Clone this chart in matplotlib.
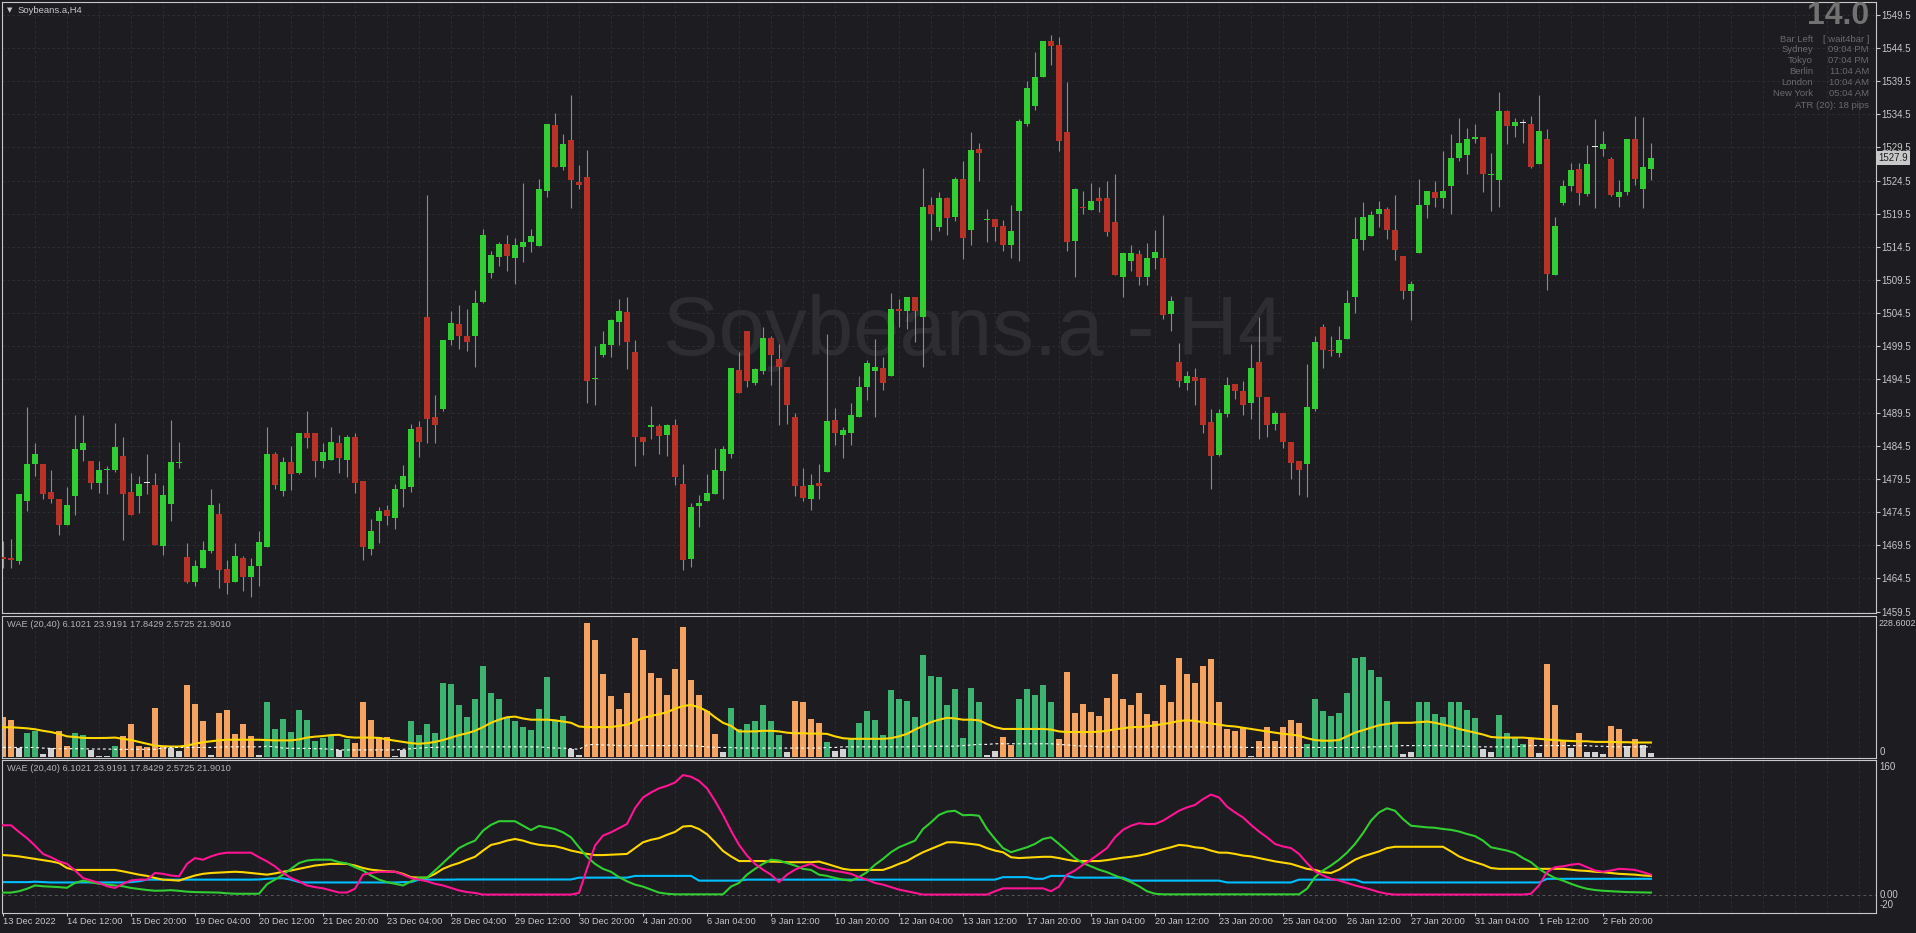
import numpy as np
import matplotlib
matplotlib.use("Agg")
import matplotlib.pyplot as plt
from matplotlib.transforms import blended_transform_factory

plt.rcParams["font.family"] = ["Liberation Sans", "DejaVu Sans"]

# ---- price data (H4 candles) ----
opens = [
    1467.7, 1467.5, 1467.1, 1476.1, 1481.7, 1481.7, 1477.5, 1476.4, 1472.5, 1477.0,
    1483.8, 1482.2, 1478.9, 1480.8, 1480.8, 1483.0, 1477.5, 1477.0, 1478.9, 1478.6,
    1469.4, 1475.7, 1481.9, 1467.7, 1463.9, 1466.0, 1468.6, 1474.2, 1465.9, 1463.9,
    1467.5, 1464.7, 1466.4, 1469.3, 1483.3, 1477.7, 1482.1, 1480.4, 1486.5, 1486.5,
    1482.2, 1482.4, 1484.9, 1482.4, 1485.9, 1479.2, 1468.9, 1473.1, 1474.8, 1473.6,
    1478.0, 1478.3, 1487.3, 1503.9, 1488.9, 1490.0, 1500.4, 1502.8, 1501.0, 1501.0,
    1506.2, 1510.5, 1513.0, 1515.0, 1512.9, 1514.5, 1515.2, 1514.7, 1523.0, 1532.9,
    1526.5, 1530.6, 1524.3, 1525.1, 1494.6, 1498.2, 1499.7, 1503.1, 1504.7, 1498.6,
    1485.9, 1487.3, 1487.5, 1486.2, 1487.7, 1478.8, 1467.4, 1475.4, 1476.1, 1477.2,
    1480.7, 1483.3, 1495.9, 1501.8, 1494.0, 1495.8, 1500.8, 1497.6, 1496.4, 1488.8,
    1478.4, 1476.4, 1478.9, 1480.6, 1488.4, 1486.2, 1486.4, 1488.9, 1493.3, 1495.8,
    1496.3, 1495.0, 1505.2, 1504.8, 1507.0, 1504.0, 1520.8, 1517.5, 1521.9, 1519.0,
    1524.8, 1517.1, 1529.3, 1518.5, 1518.7, 1517.6, 1514.8, 1519.9, 1533.1, 1535.8,
    1540.2, 1545.6, 1544.9, 1531.8, 1515.4, 1520.5, 1520.1, 1521.9, 1521.9, 1518.3,
    1509.9, 1512.4, 1513.4, 1509.9, 1512.9, 1512.9, 1504.4, 1497.2, 1494.0, 1494.9,
    1494.7, 1488.1, 1483.1, 1489.3, 1493.8, 1492.7, 1490.9, 1497.2, 1491.9, 1487.8,
    1489.5, 1485.0, 1482.2, 1481.7, 1490.1, 1502.4, 1499.0, 1498.5, 1500.6, 1506.9,
    1515.5, 1516.2, 1519.4, 1520.2, 1517.1, 1513.2, 1507.8, 1513.6, 1520.8, 1522.8,
    1521.9, 1523.7, 1527.9, 1528.3, 1530.8, 1531.1, 1525.4, 1524.6, 1535.0, 1532.7,
    1533.2, 1533.1, 1527.0, 1530.8, 1510.2, 1521.1, 1523.7, 1526.2, 1522.5, 1529.5,
    1529.3, 1527.8, 1522.1, 1522.8, 1530.8, 1523.2, 1526.2]
highs = [
    1470.1, 1470.5, 1477.2, 1490.4, 1484.9, 1481.7, 1480.8, 1476.4, 1478.3, 1489.2,
    1489.2, 1482.2, 1482.2, 1481.5, 1488.0, 1485.8, 1480.4, 1479.9, 1483.3, 1480.4,
    1478.6, 1488.4, 1485.0, 1469.9, 1467.2, 1470.2, 1478.0, 1475.9, 1467.2, 1469.8,
    1467.8, 1467.5, 1471.6, 1487.4, 1483.5, 1482.8, 1484.4, 1486.4, 1489.8, 1486.5,
    1484.9, 1487.3, 1486.2, 1486.1, 1486.4, 1479.2, 1473.4, 1475.2, 1475.6, 1478.7,
    1481.6, 1487.8, 1488.2, 1522.4, 1492.1, 1500.5, 1504.9, 1505.7, 1505.1, 1508.0,
    1517.2, 1513.9, 1515.2, 1516.3, 1515.8, 1524.1, 1517.2, 1524.8, 1533.1, 1534.7,
    1531.6, 1537.4, 1526.9, 1529.1, 1499.5, 1501.8, 1503.7, 1506.6, 1506.9, 1500.5,
    1485.9, 1490.5, 1487.8, 1487.8, 1488.5, 1481.7, 1475.9, 1477.1, 1480.2, 1484.1,
    1484.4, 1496.3, 1498.6, 1501.8, 1496.3, 1502.4, 1501.0, 1499.9, 1496.4, 1489.4,
    1481.1, 1480.2, 1481.7, 1501.3, 1490.2, 1487.3, 1490.9, 1495.0, 1497.4, 1500.6,
    1497.9, 1507.6, 1506.7, 1507.0, 1507.0, 1526.4, 1522.1, 1522.8, 1522.1, 1525.1,
    1527.5, 1531.8, 1530.2, 1520.2, 1518.7, 1518.5, 1520.8, 1533.8, 1539.5, 1543.9,
    1545.6, 1546.5, 1546.2, 1539.4, 1523.4, 1523.0, 1524.2, 1523.5, 1524.4, 1525.5,
    1513.6, 1514.8, 1514.0, 1515.1, 1517.1, 1519.3, 1507.1, 1500.0, 1495.8, 1496.3,
    1494.7, 1490.0, 1490.0, 1494.9, 1493.8, 1494.3, 1499.9, 1503.9, 1491.9, 1489.8,
    1489.5, 1485.0, 1482.2, 1496.8, 1501.0, 1502.8, 1501.0, 1502.6, 1508.0, 1519.0,
    1521.3, 1519.9, 1521.4, 1520.5, 1522.3, 1513.2, 1509.3, 1524.8, 1523.0, 1524.4,
    1528.9, 1531.6, 1534.0, 1532.4, 1533.1, 1531.1, 1528.6, 1537.9, 1535.1, 1534.0,
    1533.8, 1534.3, 1537.4, 1532.3, 1519.0, 1524.6, 1527.1, 1527.1, 1529.8, 1533.8,
    1532.0, 1528.0, 1524.6, 1530.8, 1534.3, 1534.1, 1530.2]
lows = [
    1466.0, 1466.0, 1466.6, 1474.7, 1479.9, 1476.5, 1475.9, 1471.1, 1472.5, 1474.0,
    1482.2, 1478.0, 1477.4, 1477.2, 1480.6, 1470.3, 1474.1, 1474.4, 1477.3, 1469.6,
    1468.1, 1473.2, 1481.1, 1463.8, 1463.3, 1466.0, 1468.4, 1463.1, 1462.2, 1463.9,
    1462.6, 1461.7, 1463.3, 1469.3, 1478.0, 1477.0, 1477.9, 1480.2, 1484.2, 1479.8,
    1481.1, 1482.4, 1480.4, 1479.8, 1477.4, 1467.2, 1468.1, 1469.8, 1472.6, 1472.0,
    1475.3, 1477.5, 1482.8, 1484.9, 1484.9, 1489.8, 1499.7, 1499.1, 1498.8, 1496.4,
    1506.0, 1509.8, 1511.6, 1510.9, 1508.9, 1512.2, 1513.8, 1514.6, 1522.1, 1526.5,
    1526.1, 1520.3, 1523.2, 1490.9, 1490.7, 1497.9, 1497.9, 1499.7, 1496.1, 1481.5,
    1483.1, 1485.5, 1483.3, 1482.9, 1478.6, 1465.8, 1466.2, 1472.3, 1476.1, 1477.2,
    1476.5, 1482.6, 1492.5, 1493.4, 1493.6, 1495.4, 1493.6, 1487.6, 1487.8, 1477.0,
    1476.1, 1474.8, 1476.4, 1480.6, 1484.6, 1482.6, 1484.6, 1488.9, 1491.4, 1488.9,
    1492.9, 1495.0, 1502.4, 1502.1, 1500.1, 1496.4, 1515.6, 1516.9, 1516.3, 1518.4,
    1512.7, 1514.8, 1524.5, 1515.2, 1515.4, 1513.9, 1512.9, 1512.4, 1532.7, 1535.1,
    1540.1, 1541.9, 1528.9, 1513.9, 1510.0, 1519.4, 1520.1, 1519.7, 1516.1, 1510.2,
    1507.0, 1510.9, 1508.8, 1508.8, 1511.1, 1503.7, 1501.8, 1493.4, 1492.9, 1490.7,
    1486.4, 1478.0, 1482.9, 1488.9, 1491.6, 1489.2, 1488.6, 1485.5, 1485.8, 1486.9,
    1484.2, 1479.5, 1477.1, 1476.8, 1489.8, 1496.3, 1498.1, 1497.9, 1500.6, 1504.6,
    1514.1, 1516.2, 1517.5, 1515.7, 1512.6, 1506.6, 1503.5, 1513.6, 1518.8, 1520.5,
    1520.3, 1519.4, 1527.4, 1525.5, 1530.2, 1522.8, 1519.9, 1520.5, 1530.0, 1531.1,
    1530.2, 1526.4, 1527.0, 1508.0, 1510.2, 1520.8, 1522.9, 1520.8, 1522.2, 1520.4,
    1528.2, 1522.2, 1520.5, 1522.4, 1523.9, 1520.4, 1524.6]
closes = [
    1467.4, 1467.2, 1477.2, 1481.7, 1483.3, 1477.2, 1476.4, 1472.6, 1475.5, 1484.0,
    1484.9, 1478.9, 1480.8, 1480.9, 1484.3, 1477.2, 1474.1, 1478.8, 1478.9, 1469.6,
    1477.1, 1482.1, 1482.1, 1464.0, 1466.4, 1468.8, 1475.5, 1465.8, 1463.8, 1467.9,
    1464.7, 1466.4, 1470.0, 1483.3, 1478.6, 1482.1, 1480.2, 1486.4, 1485.6, 1482.2,
    1483.5, 1485.0, 1482.6, 1485.8, 1478.9, 1469.2, 1471.7, 1474.6, 1473.9, 1478.0,
    1479.9, 1487.1, 1485.0, 1488.6, 1487.7, 1500.5, 1503.0, 1501.0, 1500.1, 1506.1,
    1516.3, 1513.3, 1515.0, 1513.1, 1514.8, 1515.3, 1516.1, 1523.2, 1533.1, 1526.5,
    1530.0, 1524.6, 1523.9, 1494.3, 1494.7, 1499.9, 1503.4, 1504.8, 1500.1, 1485.9,
    1485.1, 1487.7, 1486.0, 1487.7, 1479.8, 1467.2, 1475.3, 1475.9, 1477.4, 1480.8,
    1484.0, 1496.3, 1492.5, 1494.2, 1496.1, 1500.8, 1498.2, 1496.4, 1490.6, 1478.4,
    1476.6, 1478.6, 1478.4, 1488.2, 1486.4, 1486.9, 1489.2, 1493.4, 1497.0, 1496.4,
    1494.0, 1505.2, 1504.8, 1506.9, 1504.8, 1520.5, 1519.4, 1521.9, 1518.8, 1524.8,
    1515.8, 1529.1, 1528.6, 1518.6, 1517.5, 1514.8, 1516.9, 1533.5, 1538.5, 1540.2,
    1545.5, 1544.8, 1530.5, 1515.3, 1523.2, 1520.3, 1521.4, 1521.5, 1516.7, 1510.2,
    1513.6, 1513.6, 1509.9, 1512.9, 1513.7, 1504.2, 1506.3, 1494.2, 1495.0, 1494.2,
    1487.6, 1482.9, 1489.5, 1493.7, 1492.7, 1490.7, 1496.3, 1491.8, 1487.6, 1489.5,
    1485.0, 1481.9, 1480.8, 1490.4, 1500.1, 1499.0, 1498.8, 1500.5, 1506.1, 1515.7,
    1519.0, 1519.3, 1520.2, 1517.1, 1514.0, 1507.8, 1508.9, 1520.8, 1522.9, 1521.9,
    1523.0, 1527.9, 1530.1, 1530.8, 1531.1, 1525.5, 1525.5, 1535.0, 1532.7, 1533.3,
    1533.2, 1526.6, 1532.0, 1510.4, 1517.6, 1523.7, 1526.1, 1522.6, 1527.0, 1529.5,
    1530.0, 1522.3, 1522.8, 1530.8, 1524.8, 1526.5, 1527.9]

# ---- WAE histogram panel ----
wae_hist = [
    64.5, 60.1, 13.5, 38.5, 41.2, 4.3, 14.1, 41.7, 17.9, 38.5,
    35.2, 11.4, 1.1, 1.1, 17.3, 33.6, 53.1, 17.3, 16.3, 79.1,
    17.3, 14.6, 9.2, 116.5, 85.6, 58.0, 2.7, 71.0, 75.8, 36.8,
    53.1, 33.6, 2.7, 88.8, 45.0, 61.2, 40.1, 75.8, 59.6, 25.5,
    30.9, 33.6, 11.4, 28.7, 22.8, 88.8, 59.6, 32.0, 32.0, 1.1,
    10.8, 57.1, 35.9, 53.2, 38.8, 119.8, 117.9, 84.1, 64.8, 93.8,
    147.8, 102.5, 92.8, 62.9, 57.1, 48.4, 42.6, 77.4, 128.5, 57.1,
    66.7, 11.8, 2.1, 217.2, 189.2, 134.3, 98.6, 77.4, 103.4, 193.1,
    173.8, 136.2, 127.5, 100.5, 142.9, 210.4, 124.6, 100.5, 73.5, 36.8,
    7.9, 79.3, 45.5, 52.3, 58.1, 84.1, 57.1, 35.9, 7.9, 90.9,
    88.9, 61.9, 54.2, 24.3, 9.8, 11.8, 28.1, 55.2, 74.5, 60.0,
    35.9, 108.2, 92.8, 90.9, 64.8, 164.2, 131.4, 128.5, 84.1, 110.1,
    31.1, 112.0, 88.0, 3.1, 9.8, 32.0, 18.5, 93.8, 110.1, 100.5,
    116.9, 88.9, 28.1, 138.1, 70.6, 86.0, 72.5, 66.7, 95.7, 133.3,
    93.8, 84.1, 102.5, 69.6, 57.1, 116.9, 88.0, 160.3, 133.3, 119.8,
    147.8, 158.4, 88.9, 44.6, 41.7, 48.4, 1.0, 25.3, 48.4, 25.3,
    48.4, 60.0, 54.2, 21.4, 92.8, 74.5, 66.7, 71.5, 103.4, 159.3,
    162.2, 141.0, 128.5, 90.9, 54.2, 4.0, 7.9, 88.9, 88.9, 69.6,
    64.8, 88.0, 88.0, 76.4, 62.9, 11.8, 6.9, 67.7, 38.8, 31.1,
    21.4, 31.1, 5.9, 150.7, 84.1, 26.2, 13.7, 38.8, 6.9, 6.9,
    4.0, 50.3, 44.6, 16.6, 29.1, 18.5, 5.9]
# u = trend up, d = trend down, n = below dead zone
wae_state = ("ddnuunnddu" "unnnuddddd" "dnndddnddd" "ddnuuuuuuu"
             "uunudddddn" "nuuuuuuuuu" "uuuuuuuuuu" "unnddddddd"
             "dddddddddd" "nuuuuuuund" "dddunnuuuu" "uuuuuuuuuu"
             "uuunndduuu" "uudddddddd" "dddddddddd" "ddddddnddd"
             "ddduuuuuuu" "uuuuunnuuu" "uuuuunnuuu" "udndddndnn"
             "nddndnn")
wae_explosion = [
    47.7, 47.7, 47, 46, 44.5, 42, 40, 37, 33, 32,
    30.5, 30.3, 30.3, 30.5, 31, 29, 27, 24, 21, 18,
    17, 16.5, 16.5, 18, 21, 23.5, 25, 26.5, 27.5, 27.5,
    27.5, 27.5, 27.5, 27, 26.5, 26.5, 26.5, 28, 31, 32.5,
    33.5, 35, 35.5, 32, 31, 31, 31, 30.5, 28, 26,
    24, 22, 21, 22, 24, 27, 31, 35, 38, 42,
    48, 55, 60, 64, 65, 62, 60, 60, 60, 59,
    57, 55, 49, 48, 48, 48, 48, 50, 52, 57,
    63, 66, 69, 72, 78, 82, 84, 80, 74, 64,
    55, 50, 41, 41, 41, 42, 42, 41, 39, 38,
    38, 37.5, 37.5, 37, 33, 30, 29, 29, 29, 29,
    29, 30, 33, 37, 44, 50, 56, 60, 63, 62,
    60, 60, 59, 53, 48, 45, 45, 45, 45, 45,
    45, 44, 41, 40, 40, 40, 40, 40.5, 42, 44.5,
    46, 48, 48, 49, 51, 53, 55, 58, 59, 58,
    56, 54, 52, 50, 49, 47, 45, 43, 41, 39,
    37, 36, 34, 30, 27, 26, 26, 27, 33, 39,
    43, 47, 51, 53, 55, 55, 55, 56, 57, 55,
    52, 49, 45, 42, 39, 36, 32, 31, 31, 31,
    31, 30, 29, 28, 27, 26, 25.5, 25, 25, 24,
    24, 24, 23.5, 23.5, 23, 23, 23]
wae_deadzone = [
    15, 15, 15, 15, 15, 14, 13.5, 13, 13, 13,
    13, 12.5, 12.5, 12.5, 12, 12, 12, 12, 12, 12,
    14, 15, 15, 15, 15, 15, 15, 15.5, 16, 16,
    16, 16, 16, 17, 16, 14, 13.5, 13.5, 13.5, 13,
    13, 12, 11, 11, 11, 11, 11, 11, 11, 11,
    12, 13, 14, 15, 15, 16, 16, 16, 16, 16,
    16, 16, 16, 16, 16, 16, 16, 16, 15, 14,
    14, 13, 12, 19, 20, 19, 19, 18, 18, 18,
    18, 18, 18, 18, 18, 18, 18, 17, 16, 15,
    15, 15, 14, 14, 14, 14, 14, 14, 14, 14,
    14, 14, 14, 15, 15, 16, 16, 16, 16, 16,
    16, 16, 16, 16, 17, 17, 17, 17, 17, 17,
    18, 19, 20, 20, 21, 21, 21, 21, 21, 21,
    21, 21, 20, 19, 18, 17, 17, 16, 16, 16,
    16, 16, 16, 16, 16, 16, 16, 16, 16, 16,
    16, 16, 16, 16, 16, 15, 15, 15, 15, 15,
    15, 15, 15, 15, 15, 15, 15, 15, 15, 15,
    15, 16, 16, 17, 17, 18, 18, 18, 18, 18,
    18, 17, 17, 17, 16, 16, 16, 16, 16, 16,
    17, 18, 18, 18, 18, 18, 18, 18, 18, 17,
    17, 16, 16, 16, 16, 16, 16]

# ---- WAE line panel ----
line_magenta = [
    84.5, 84.5, 76.5, 69, 60, 50, 46, 41, 38, 30,
    21, 18, 15, 11, 9, 14, 18, 19, 19, 27,
    26, 24, 23, 38, 45, 43, 47, 50, 51.5, 51.5,
    51.5, 51.5, 46, 41, 35, 27, 21, 17, 12, 10,
    8.5, 6, 3.5, 3.5, 8, 25, 27, 28.5, 28.5, 28.5,
    25, 21, 19, 17, 14, 12, 9, 6, 4, 3,
    1, 1, 1, 1, 1, 1, 1, 1, 1, 1,
    1, 1, 3, 32, 60, 72, 76, 81, 86, 105,
    118, 124, 129, 132, 136, 145, 143, 138, 129, 114,
    97, 78, 61, 48, 38, 31, 25, 16, 25, 31,
    35, 38, 33, 31, 29.5, 28, 26, 22, 19, 15,
    13, 10, 7, 5, 3, 1, 1, 1, 1, 1,
    1, 1, 1, 1, 5, 8.5, 8.5, 8.5, 8.5, 8.5,
    8.5, 5, 10.6, 25, 30, 37, 43, 50, 57, 70,
    79, 84, 87, 86, 86, 90, 96, 102, 106, 109,
    116, 121.5, 118, 107, 100, 94, 85, 77, 70, 62,
    59, 57, 50, 39, 29, 24, 20, 18, 15, 12,
    9.5, 7, 4, 2, 1, 1, 1, 1, 1, 1,
    1, 1, 1, 1, 1, 1, 1, 1, 1, 1,
    1, 2, 12, 28, 34, 35, 37, 38, 34, 30,
    28.5, 30, 32, 31.5, 30.7, 28, 25]
line_green = [
    3.4, 3.4, 5, 8, 12, 11, 10.5, 10, 9.2, 15,
    17.8, 16, 14, 13, 12, 11, 9, 7.7, 6.5, 5.6,
    5.8, 6.3, 5.5, 4.5, 4, 3.8, 3.5, 3.4, 2.5, 2,
    2, 2, 2, 13.5, 19, 25, 32, 39, 42, 43,
    43, 43, 40, 38.5, 34, 30, 24, 19, 16, 14,
    12, 17, 21.4, 21.4, 30, 39, 48, 57, 62, 66,
    78, 85, 89.4, 89.4, 89.4, 84, 78.7, 83.7, 82, 80,
    76, 70, 58, 46.5, 38, 32, 28.5, 22, 17, 13,
    10.6, 7, 3.4, 2, 1.3, 1.3, 1.3, 1.3, 1.3, 1.3,
    1.3, 10.6, 15, 25, 32, 38, 43, 42, 39, 36,
    32, 30.7, 25, 23.5, 21, 19, 17.8, 22, 28, 37,
    44, 52, 58, 62, 66, 80, 88, 97, 101, 102,
    96.6, 97, 96, 80, 68, 57, 52, 55, 58, 62,
    68, 70, 62, 53.6, 45, 39, 35, 31, 28, 24,
    20, 16, 11, 5, 2, 1.3, 1.3, 1.3, 1.3, 1.3,
    1.3, 1.3, 1.3, 1.3, 1.3, 1.3, 1.3, 1.3, 1.3, 1.3,
    1.3, 1.3, 1.3, 8, 22, 30, 36, 43, 51.5, 62,
    75, 90, 100, 105, 102, 92, 84, 83, 82, 81.5,
    80, 79, 77, 74, 71.5, 66, 58, 56, 54, 51,
    45, 40, 32, 26, 21, 17.8, 14, 10.6, 8, 6.5,
    5.6, 5, 4.5, 4, 3.8, 3.6, 3.4]
line_yellow = [
    48.6, 48, 47, 45.5, 44, 42.5, 41, 39, 33, 30.7,
    30.7, 30.7, 30.7, 30.7, 30.7, 29, 27, 25, 23.5, 21,
    19, 18.5, 17.8, 21, 24, 26, 27, 27.5, 28, 28.5,
    28, 27, 26, 25, 26.5, 28.5, 30, 32, 34, 36,
    37, 38, 38, 38, 36, 33, 31, 30, 29, 28.5,
    26, 22, 21.4, 21.4, 26, 32, 36, 39, 43, 46.5,
    54, 60.8, 63, 66, 68, 66, 63, 61, 60, 59.3,
    57, 54, 52, 50, 48.6, 48.6, 49, 49.5, 50, 57,
    64, 67, 69, 73, 76.5, 83, 83.7, 80, 73.7, 64,
    53.6, 47, 41.4, 41.4, 41.4, 41.4, 40.7, 40.5, 40, 40,
    40, 40, 40.7, 38, 35, 32, 30.7, 30.7, 30.7, 30.7,
    30.7, 34, 38, 41.4, 47, 52, 56, 60, 64, 64,
    63, 62, 60.8, 57, 54, 52, 46, 45, 45.5, 46,
    46.5, 46.5, 45, 43, 41.4, 41.4, 41.4, 41.4, 42.5, 44,
    45.5, 46.5, 48, 50, 53, 55.6, 58, 60.8, 60, 58,
    57, 54, 51.5, 51.5, 50, 48, 47, 45, 43, 41,
    39.5, 38, 35, 32, 30.7, 28, 27, 31, 37, 43,
    47, 50, 53, 57, 58.6, 58.6, 58.6, 58.6, 58.6, 58.6,
    58.6, 53, 47, 43, 40, 37, 33, 32, 32, 32,
    32, 32, 32, 32, 32, 32, 31, 30, 29.5, 28.5,
    28, 27, 26, 25.5, 25, 24, 23.5]
line_cyan = [
    16, 16, 16, 16, 16.5, 16, 15.6, 15.6, 15.6, 15.6,
    15.6, 15.6, 15.6, 15.6, 15.6, 15.6, 16, 17, 19, 19,
    19, 19, 19, 19, 19, 19, 19, 19, 19, 19,
    19, 19, 19.2, 20, 20.6, 20.6, 19, 16, 15.6, 15.6,
    15.6, 15.6, 15.6, 15.6, 15.6, 15.6, 15.6, 15.6, 15.6, 15.6,
    16, 16, 19, 19, 19, 19, 19, 19.2, 19.2, 19.2,
    19.2, 19.2, 19.2, 19.2, 19.2, 19.2, 19.2, 19.2, 19.2, 19.2,
    19.2, 19.2, 21.4, 21.4, 21.4, 21.4, 21.4, 21.4, 21.4, 23.5,
    23.5, 23.5, 23.5, 23.5, 23.5, 23.5, 23.5, 17.8, 17.8, 17.8,
    17.8, 17.8, 17.8, 19, 19, 19, 19, 19, 19, 19,
    19, 19, 19, 19, 19, 19, 19, 19, 19, 19,
    19, 19, 19, 19, 19, 19, 19, 19, 19, 19,
    19, 19, 19, 19, 19, 22, 22, 22, 22, 20,
    20, 23.5, 23.5, 23.5, 21.4, 21.4, 21.4, 21.4, 21.4, 21.4,
    21.4, 17.8, 17.8, 17.8, 17.8, 17.8, 17.8, 17.8, 17.8, 17.8,
    17.8, 17.8, 17.8, 15.6, 15.6, 15.6, 15.6, 15.6, 15.6, 15.6,
    15.6, 15.6, 19, 19, 19, 19, 19, 19, 19, 19,
    15.6, 15.6, 15.6, 15.6, 15.6, 15.6, 15.6, 15.6, 15.6, 15.6,
    15.6, 15.6, 15.6, 15.6, 15.6, 15.6, 15.6, 15.6, 15.6, 15.6,
    15.6, 15.6, 15.6, 20, 20, 20, 20, 20, 20, 20,
    20, 20, 20, 20, 20, 20, 20]

time_labels = ["13 Dec 2022", "14 Dec 12:00", "15 Dec 20:00", "19 Dec 04:00", "20 Dec 12:00",
               "21 Dec 20:00", "23 Dec 04:00", "28 Dec 04:00", "29 Dec 12:00", "30 Dec 20:00",
               "4 Jan 20:00", "6 Jan 04:00", "9 Jan 12:00", "10 Jan 20:00", "12 Jan 04:00",
               "13 Jan 12:00", "17 Jan 20:00", "19 Jan 04:00", "20 Jan 12:00", "23 Jan 20:00",
               "25 Jan 04:00", "26 Jan 12:00", "27 Jan 20:00", "31 Jan 04:00", "1 Feb 12:00",
               "2 Feb 20:00"]
last_price = 1527.9
wae_caption = "WAE (20,40) 6.1021 23.9191 17.8429 2.5725 21.9010"
info_rows = [("Sydney", "09:04 PM"), ("Tokyo", "07:04 PM"), ("Berlin", "11:04 AM"),
             ("London", "10:04 AM"), ("New York", "05:04 AM")]

# ---- style ----
W, H = 1916, 933
BG = "#1c1c21"
BORDER = "#c8c8c8"
GRID = "#303036"
TXT = "#c8c8c8"
L, R = 2.3, 1875.5
XMIN, XMAX = (L - 3) / 8, (R - 3) / 8

n = len(closes)
x = np.arange(n)
o = np.array(opens[:n]); c = np.array(closes[:n])
hi = np.array(highs[:n]); lo = np.array(lows[:n])

fig = plt.figure(figsize=(W / 100, H / 100), dpi=100, facecolor=BG)


def panel(top, bottom):
    ax = fig.add_axes([L / W, 1 - bottom / H, (R - L) / W, (bottom - top) / H])
    ax.set_facecolor(BG)
    for s in ax.spines.values():
        s.set_color(BORDER)
        s.set_linewidth(0.8)
    ax.set_xlim(XMIN, XMAX)
    ax.tick_params(axis="x", bottom=False, labelbottom=False)
    ax.tick_params(axis="y", left=False, labelleft=False, right=False, labelright=False)
    for gx in np.arange(4, 234, 4):
        ax.axvline(gx, color=GRID, lw=0.6, dashes=(3, 3), zorder=0)
    return ax


# main price panel
ax1 = panel(2.3, 613.3)
ax1.set_ylim(1459.23, 1551.40)
pticks = np.arange(1459.5, 1550, 5)
for py in pticks:
    ax1.axhline(py, color=GRID, lw=0.6, dashes=(3, 3), zorder=0)
ax1.yaxis.tick_right()
ax1.set_yticks(pticks)
ax1.set_yticklabels(["%.1f" % v for v in pticks])
ax1.tick_params(axis="y", right=True, labelright=True, length=3, width=0.8,
                color=BORDER, labelcolor=TXT, labelsize=7, pad=1.5)

ax1.text(973.5 / W, 1 - 333 / H, "Soybeans.a - H4", transform=fig.transFigure,
         ha="center", va="center", fontsize=60, color="#2d2d32", zorder=0.5)

body_col = np.where(c > o, "#32cd32", np.where(c < o, "#b83228", "#e6e6e6"))
ax1.vlines(x, lo, hi, colors="#8c8c8c", lw=0.8, zorder=2)
bottoms = np.minimum(o, c)
heights = np.maximum(np.abs(c - o), 0.15)
ax1.bar(x, heights, bottom=bottoms, width=0.8, color=body_col, linewidth=0, zorder=3)

tb = blended_transform_factory(ax1.transAxes, ax1.transData)
ax1.text(1.0015, last_price, "1527.9", transform=tb, ha="left", va="center",
         fontsize=7, color="#1c1c21",
         bbox=dict(facecolor="#c8c8c8", edgecolor="none", pad=1.2), zorder=5, clip_on=False)

# header and info block
fig.text(7 / W, 1 - 10.5 / H, "\u25bc", fontsize=5, color=TXT, family="DejaVu Sans",
         ha="left", va="center")
fig.text(18 / W, 1 - 10.5 / H, "Soybeans.a,H4", fontsize=6.8, color=TXT, ha="left", va="center")
INFO = "#6b6b6b"
fig.text(1869 / W, 1 - 15.5 / H, "14.0", fontsize=23, fontweight="bold", color="#727272",
         ha="right", va="center")
fig.text(1813 / W, 1 - 39 / H, "Bar Left", fontsize=6.8, color=INFO, ha="right", va="center")
fig.text(1869 / W, 1 - 39 / H, "[ wait4bar ]", fontsize=6.8, color=INFO, ha="right", va="center")
for k, (city, t) in enumerate(info_rows):
    yy = 50 + k * 10.8
    fig.text(1813 / W, 1 - yy / H, city, fontsize=6.8, color=INFO, ha="right", va="center")
    fig.text(1869 / W, 1 - yy / H, t, fontsize=6.8, color=INFO, ha="right", va="center")
fig.text(1869 / W, 1 - 105 / H, "ATR (20): 18 pips", fontsize=6.8, color=INFO, ha="right", va="center")

# histogram panel
ax2 = panel(615.7, 757.7)
ax2.set_ylim(-1.6, 228.6)
hist_col = {"u": "#3cb371", "d": "#f4a460", "n": "#d3d3d3"}
hcols = [hist_col[s] for s in wae_state[:n]]
ax2.bar(x, wae_hist[:n], width=0.82, color=hcols, linewidth=0, zorder=2)
ax2.plot(x, wae_explosion[:n], color="#ffd700", lw=1.5, zorder=3)
ax2.plot(x, wae_deadzone[:n], color="#ffffff", lw=0.8, dashes=(2.5, 2.5), zorder=3)
fig.text(7.3 / W, 1 - 624.7 / H, wae_caption, fontsize=6.7, color="#b4b4b4", ha="left", va="center")
fig.text(1879 / W, 1 - 623 / H, "228.6002", fontsize=6.4, color=TXT, ha="left", va="center")
fig.text(1879.5 / W, 1 - 752 / H, "0", fontsize=7, color=TXT, ha="left", va="center")

# line panel
ax3 = panel(760.3, 912.5)
ax3.set_ylim(-20.6, 162.8)
ax3.axhline(0, color="#55555c", lw=0.7, dashes=(3, 3), zorder=1)
ax3.plot(x, line_cyan[:n], color="#00bfff", lw=1.5, zorder=2)
ax3.plot(x, line_yellow[:n], color="#ffd700", lw=1.5, zorder=3)
ax3.plot(x, line_green[:n], color="#32cd32", lw=1.5, zorder=4)
ax3.plot(x, line_magenta[:n], color="#ff1493", lw=1.5, zorder=5)
fig.text(7.3 / W, 1 - 768.8 / H, wae_caption, fontsize=6.7, color="#b4b4b4", ha="left", va="center")
fig.text(1879.5 / W, 1 - 767 / H, "160", fontsize=7, color=TXT, ha="left", va="center")
fig.text(1879.5 / W, 1 - 895.5 / H, "0.00", fontsize=7, color=TXT, ha="left", va="center")
fig.text(1879.5 / W, 1 - 905.5 / H, "-20", fontsize=7, color=TXT, ha="left", va="center")

ax3.set_xticks(np.arange(0, 8 * len(time_labels), 8))
ax3.set_xticklabels(time_labels, fontsize=6.7, color=TXT, ha="left")
ax3.tick_params(axis="x", bottom=True, labelbottom=True, direction="out", length=2,
                width=0.8, color=BORDER, pad=1)

fig.savefig("out.png", dpi=100, facecolor=BG)
